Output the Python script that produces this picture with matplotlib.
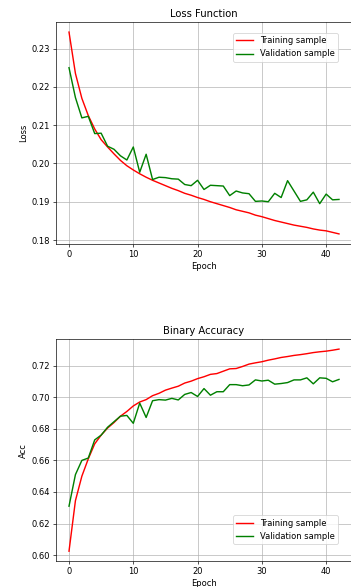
import matplotlib
matplotlib.use("Agg")
import matplotlib.pyplot as plt

epochs = list(range(43))

train_loss = [0.2343, 0.2235, 0.2170, 0.2125, 0.2090, 0.2062, 0.2043, 0.2025, 0.2008, 0.1994,
              0.1983, 0.1973, 0.1964, 0.1956, 0.1949, 0.1942, 0.1935, 0.1929, 0.1922, 0.1917,
              0.1911, 0.1906, 0.1900, 0.1895, 0.1890, 0.1885, 0.1879, 0.1875, 0.1871, 0.1865,
              0.1861, 0.1856, 0.1851, 0.1847, 0.1843, 0.1839, 0.1836, 0.1833, 0.1829, 0.1826,
              0.1824, 0.1820, 0.1816]
val_loss = [0.2250, 0.2172, 0.2119, 0.2123, 0.2078, 0.2079, 0.2045, 0.2037, 0.2020, 0.2009,
            0.2043, 0.1977, 0.2024, 0.1958, 0.1964, 0.1963, 0.1960, 0.1959, 0.1945, 0.1942,
            0.1956, 0.1932, 0.1943, 0.1942, 0.1941, 0.1916, 0.1928, 0.1923, 0.1921, 0.1901,
            0.1902, 0.1900, 0.1922, 0.1911, 0.1955, 0.1928, 0.1901, 0.1905, 0.1925, 0.1895,
            0.1920, 0.1905, 0.1906]

train_acc = [0.6025, 0.6345, 0.6500, 0.6610, 0.6705, 0.6760, 0.6805, 0.6840, 0.6880, 0.6910,
             0.6945, 0.6970, 0.6985, 0.7010, 0.7025, 0.7045, 0.7058, 0.7070, 0.7090, 0.7102,
             0.7118, 0.7130, 0.7145, 0.7150, 0.7165, 0.7180, 0.7182, 0.7195, 0.7210, 0.7218,
             0.7225, 0.7235, 0.7243, 0.7252, 0.7258, 0.7265, 0.7270, 0.7276, 0.7283, 0.7288,
             0.7292, 0.7298, 0.7305]
val_acc = [0.6310, 0.6510, 0.6600, 0.6615, 0.6730, 0.6760, 0.6810, 0.6845, 0.6880, 0.6885,
           0.6835, 0.6963, 0.6872, 0.6978, 0.6985, 0.6982, 0.6993, 0.6983, 0.7018, 0.7030,
           0.7005, 0.7055, 0.7013, 0.7035, 0.7035, 0.7080, 0.7080, 0.7073, 0.7078, 0.7110,
           0.7103, 0.7108, 0.7083, 0.7087, 0.7093, 0.7110, 0.7110, 0.7123, 0.7085, 0.7123,
           0.7120, 0.7098, 0.7113]

W, H, DPI = 351, 587, 60
fig = plt.figure(figsize=(W / DPI, H / DPI), dpi=DPI)


def panel(rect, train, val, title, ylabel, loc, anchor):
    ax = fig.add_axes(rect)
    ax.plot(epochs, train, color="red", lw=1.7, label="Training sample")
    ax.plot(epochs, val, color="green", lw=1.7, label="Validation sample")
    ax.set_title(title)
    ax.set_xlabel("Epoch")
    ax.set_ylabel(ylabel)
    ax.set_xticks([0, 10, 20, 30, 40])
    ax.grid(True)
    ax.legend(loc=loc, bbox_to_anchor=anchor, bbox_transform=fig.transFigure, borderaxespad=0)
    return ax


panel([55.5 / W, 1 - 244 / H, 297 / W, 222 / H], train_loss, val_loss,
      "Loss Function", "Loss", "upper right", (338 / W, 1 - 33 / H))
panel([55.5 / W, 1 - 561.3 / H, 297 / W, 222.3 / H], train_acc, val_acc,
      "Binary Accuracy", "Acc", "lower right", (338 / W, 1 - 544 / H))

fig.savefig("out.png", dpi=DPI)
